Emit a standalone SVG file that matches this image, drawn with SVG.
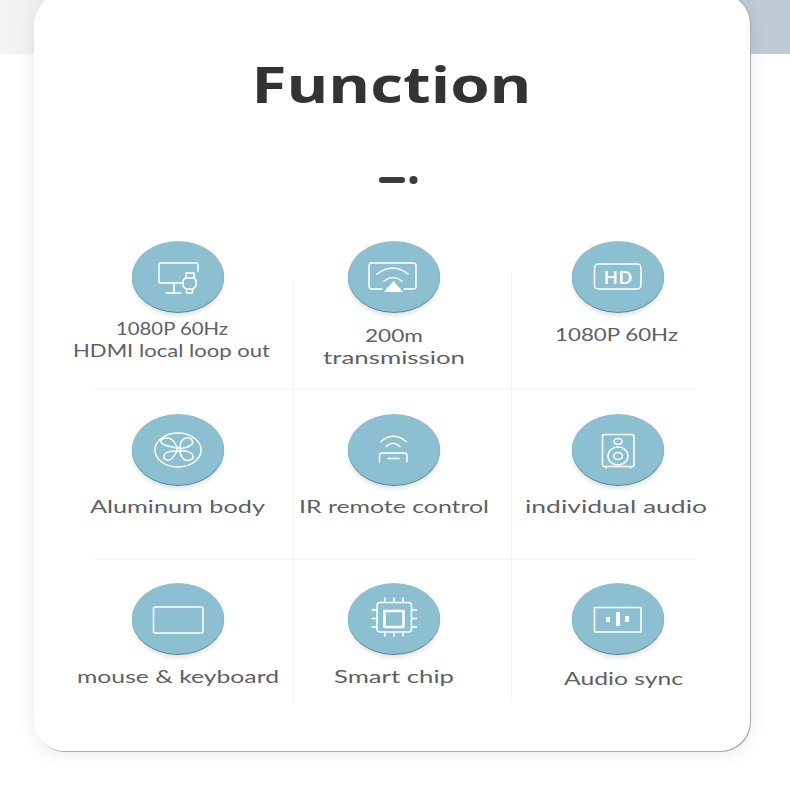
<svg xmlns="http://www.w3.org/2000/svg" width="790" height="790" viewBox="0 0 790 790">
<style>
.lab{font-family:"Lato","Open Sans","Liberation Sans",sans-serif;font-size:18px;fill:#5f6063}
.ic{fill:none;stroke:#fff;stroke-width:1.500;stroke-linecap:round;stroke-linejoin:round}
.div{stroke:#f3f4f5;stroke-width:1;fill:none}
.disc{fill:#8cc0d1}
.edge{fill:#5b8794}
</style>
<defs>
<linearGradient id="band" x1="0" x2="1" y1="0" y2="0"><stop offset="0" stop-color="#f2f3f5"/><stop offset="0.5" stop-color="#dde3e8"/><stop offset="0.9" stop-color="#bccbd6"/><stop offset="1" stop-color="#bccbd6"/></linearGradient>
<filter id="cardShadow" x="-10%" y="-10%" width="120%" height="120%"><feGaussianBlur stdDeviation="9"/></filter>
<filter id="discShadow" x="-20%" y="-20%" width="140%" height="150%"><feGaussianBlur stdDeviation="2.500"/></filter>
<g id="disc"><ellipse cx="0" cy="3.500" rx="45" ry="35" fill="#000" opacity=".15" filter="url(#discShadow)"/><ellipse class="edge" cx="0" cy="1" rx="46" ry="35.500"/><ellipse class="disc" cx="0" cy="0" rx="46" ry="35.500"/></g>
</defs>
<rect width="790" height="790" fill="#fff"/>
<rect width="790" height="54" fill="url(#band)"/>
<rect x="34" y="-6" width="716" height="760" rx="30" fill="#000" opacity=".08" filter="url(#cardShadow)"/>
<rect x="35" y="-6" width="716" height="758" rx="30" fill="#a8aaac"/>
<rect x="34" y="-6" width="716" height="757" rx="30" fill="#fff"/>
<text x="391.500" y="103" text-anchor="middle" font-family="'Open Sans','DejaVu Sans',sans-serif" font-weight="700" font-size="51" fill="#333333" textLength="280" lengthAdjust="spacingAndGlyphs">Function</text>
<g id="ornament" fill="#3a3b3d"><rect x="379" y="177" width="26" height="6" rx="3"/><circle cx="413.500" cy="180" r="4"/></g>
<g id="connectors">
<path class="div" d="M293.500 280V705M511.500 272V700M95 389H695M95 559.500H695"/>
</g>
<g id="n1"><use href="#disc" x="178" y="276.500"/>
<path class="ic" d="M183 283H160.500Q159 283 159 281.500V264.500Q159 263 160.500 263H196.500Q198 263 198 264.500V271M174 283V293M166 293H181"/>
<path class="ic" d="M186 278V273H194V278M183 280.500L185 278H194.500L196 280.500V286L193 289H186L183 286ZM186.500 289V293H192.500V289"/>
<text class="lab" x="172" y="335" text-anchor="middle" textLength="112" lengthAdjust="spacingAndGlyphs">1080P 60Hz</text>
<text class="lab" x="171.500" y="357" text-anchor="middle" textLength="197" lengthAdjust="spacingAndGlyphs">HDMI local loop out</text></g>
<g id="n2"><use href="#disc" x="394" y="276.500"/>
<path class="ic" d="M382 289H372Q369 289 369 286V266Q369 263 372 263H413Q416 263 416 266V286Q416 289 413 289H404M377 274Q393 262 408 274M384 281Q393 274 402 281"/>
<path d="M393.500 281L403 292H384Z" fill="#fff"/>
<text class="lab" x="394" y="342" text-anchor="middle" textLength="58" lengthAdjust="spacingAndGlyphs">200m</text>
<text class="lab" x="394" y="364" text-anchor="middle" textLength="142" lengthAdjust="spacingAndGlyphs">transmission</text></g>
<g id="n3"><use href="#disc" x="618" y="276.500"/>
<rect class="ic" x="594.500" y="264" width="46.500" height="25" rx="4"/>
<text x="618" y="283.500" text-anchor="middle" font-family="'Open Sans','Liberation Sans',sans-serif" font-weight="600" font-size="18" fill="#fff" textLength="29" lengthAdjust="spacingAndGlyphs">HD</text>
<text class="lab" x="616.500" y="341" text-anchor="middle" textLength="123" lengthAdjust="spacingAndGlyphs">1080P 60Hz</text></g>
<g id="n4"><use href="#disc" x="178" y="449.500"/>
<ellipse class="ic" cx="178" cy="450" rx="23" ry="17"/>
<path class="ic" d="M177 448C172 447 162 446 161 442C160 438 168 437 171 439C174 441 176 445 177 448ZM180 448C180 443 182 439 186 438C191 437 194 441 192 444C190 447 184 448 180 449ZM180 451C185 450 192 452 193 456C194 460 188 461 185 460C182 458 180 454 180 451ZM177 451C175 455 172 461 167 460C163 459 163 455 166 453C169 451 174 451 177 451Z"/>
<circle class="ic" cx="178.500" cy="449.500" r="1.800"/>
<text class="lab" x="177.500" y="513" text-anchor="middle" textLength="175" lengthAdjust="spacingAndGlyphs">Aluminum body</text></g>
<g id="n5"><use href="#disc" x="394" y="449.500"/>
<path class="ic" d="M381 441.500Q393 431 406 441.500M386 446.500Q393 440 400 446.500M379.500 462V455.500Q379.500 453 382 453H404.500Q407 453 407 455.500V462M388 458.500H399"/>
<text class="lab" x="394" y="513" text-anchor="middle" textLength="190" lengthAdjust="spacingAndGlyphs">IR remote control</text></g>
<g id="n6"><use href="#disc" x="618" y="449.500"/>
<rect class="ic" x="602.500" y="434.500" width="31.500" height="32" rx="2"/>
<path class="ic" d="M606 467V468M630.500 467V468"/>
<ellipse class="ic" cx="618" cy="441.500" rx="4" ry="3"/>
<ellipse class="ic" cx="618" cy="456" rx="10" ry="9"/>
<ellipse class="ic" cx="618" cy="456" rx="4.500" ry="3.500"/>
<text class="lab" x="616" y="513" text-anchor="middle" textLength="182" lengthAdjust="spacingAndGlyphs">individual audio</text></g>
<g id="n7"><use href="#disc" x="178" y="618.500"/>
<rect class="ic" x="153.500" y="607" width="49.500" height="26" rx="2"/>
<text class="lab" x="178" y="683" text-anchor="middle" textLength="202" lengthAdjust="spacingAndGlyphs">mouse &amp; keyboard</text></g>
<g id="n8"><use href="#disc" x="394" y="618.500"/>
<rect class="ic" x="377" y="602.500" width="34.500" height="29.500" rx="3"/>
<rect class="ic" style="stroke-width:2.600" x="384.500" y="611" width="19" height="16"/>
<path class="ic" d="M385 598V602M394 598V602M403 598V602M385 632V636M394 632V636M403 632V636M372 610H377M372 618.500H377M372 627H377M411.500 610H416.500M411.500 618.500H416.500M411.500 627H416.500"/>
<text class="lab" x="394" y="683" text-anchor="middle" textLength="120" lengthAdjust="spacingAndGlyphs">Smart chip</text></g>
<g id="n9"><use href="#disc" x="618" y="618.500"/>
<rect class="ic" x="594.500" y="607.500" width="46.500" height="24.500"/>
<path d="M606 617H610V622H606ZM616 612H620V626H616ZM625 616H629V622H625Z" fill="#fff"/>
<text class="lab" x="623.500" y="685" text-anchor="middle" textLength="119" lengthAdjust="spacingAndGlyphs">Audio sync</text></g>
</svg>
